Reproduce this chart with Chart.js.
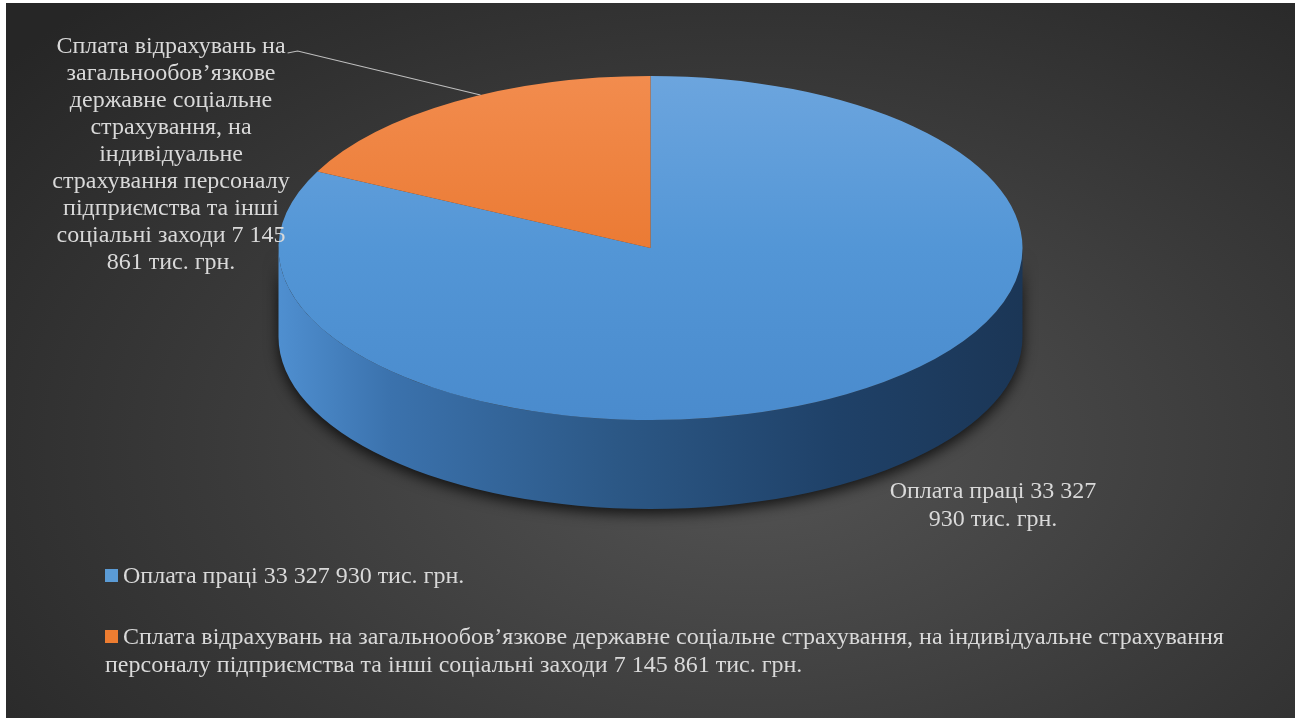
<!DOCTYPE html>
<html>
<head>
<meta charset="utf-8">
<script src="https://cdn.jsdelivr.net/npm/chart.js@4"></script>
<style>
  html, body { margin: 0; padding: 0; background: #fff; }
  #wrap {
    position: absolute; left: 6px; top: 3px; width: 1289px; height: 715px; overflow: hidden;
    background: radial-gradient(ellipse 75% 85% at 58% 62%, #545454 0%, #3a3a3a 55%, #262626 100%);
  }
  #pie { position: absolute; left: 0; top: 0; }
  #legend {
    position: absolute; left: 99px; top: 558px; width: 1150px;
    font-family: "Liberation Serif", "Times New Roman", serif; font-size: 24px;
    line-height: 28px; color: #d9d9d9;
  }
  #legend .item { margin-bottom: 33px; }
  #legend .box { display: inline-block; width: 13px; height: 13px; margin-right: 5px; vertical-align: 1px; }
</style>
</head>
<body>
<div id="wrap">
  <canvas id="pie" width="1289" height="715"></canvas>
  <div id="legend"></div>
</div>
<script>
var categorias = ['Оплата праці 33 327 930 тис. грн.',
  'Сплата відрахувань на загальнообов’язкове державне соціальне страхування, на індивідуальне страхування персоналу підприємства та інші соціальні заходи 7 145 861 тис. грн.'];
var valores = [33327930, 7145861];
var colores = ['#5b9bd5', '#ed7d31'];
// подписи секторов, разбитые по строкам
var etiquetas = [
  ['Оплата праці 33 327', '930 тис. грн.'],
  ['Сплата відрахувань на', 'загальнообов’язкове', 'державне соціальне', 'страхування, на',
   'індивідуальне', 'страхування персоналу', 'підприємства та інші', 'соціальні заходи 7 145', '861 тис. грн.']
];

var RADIO = 372;          // horizontal radius of the pie
var ESCALA = 172 / 372;   // vertical squash of the top face
var PROF = 89;            // depth of the side wall
var FUENTE = '24px "Liberation Serif", "Times New Roman", serif';
var TEXTO = '#d9d9d9';

function gradTop(c)
{
    var area = c.chart.chartArea;
    if (!area) return colores[c.dataIndex];
    var cy = (area.top + area.bottom) / 2;
    var g = c.chart.ctx.createLinearGradient(0, cy - RADIO, 0, cy + RADIO);
    if (c.dataIndex === 0) {
        g.addColorStop(0, '#6ca5de');
        g.addColorStop(0.5, '#5396d6');
        g.addColorStop(1, '#4a8bcd');
    } else {
        g.addColorStop(0, '#f28c4e');
        g.addColorStop(1, '#e4691a');
    }
    return g;
}

// side wall + flattening of the pie
var pie3d = {
    id: 'pie3d',
    beforeDatasetsDraw: function(chart) {
        var ctx = chart.ctx;
        var arcs = chart.getDatasetMeta(0).data;
        var cx = arcs[0].x, cy = arcs[0].y;
        var rx = arcs[0].outerRadius, ry = rx * ESCALA;

        ctx.save();
        for (var i = 0; i < arcs.length; i++) {
            var a = arcs[i];
            var s = a.startAngle, e = a.endAngle;
            // only the front half (0..PI) of the wall is visible
            var a0 = Math.max(s, 0), a1 = Math.min(e, Math.PI);
            if (a1 <= a0) continue;
            var g = ctx.createLinearGradient(cx - rx, 0, cx + rx, 0);
            if (i === 0) {
                g.addColorStop(0, '#4f8fd0');
                g.addColorStop(0.15, '#3b72ad');
                g.addColorStop(0.45, '#2c5886');
                g.addColorStop(0.75, '#1f4168');
                g.addColorStop(1, '#1b3656');
            } else {
                g.addColorStop(0, '#c9621f');
                g.addColorStop(1, '#8a3f10');
            }
            ctx.beginPath();
            ctx.ellipse(cx, cy, rx, ry, 0, a0, a1, false);
            ctx.ellipse(cx, cy + PROF, rx, ry, 0, a1, a0, true);
            ctx.closePath();
            ctx.shadowColor = 'rgba(0,0,0,0.75)';
            ctx.shadowBlur = 14;
            ctx.shadowOffsetY = 5;
            ctx.fillStyle = g;
            ctx.fill();
        }
        ctx.restore();

        ctx.save();
        ctx.translate(cx, cy);
        ctx.scale(1, ESCALA);
        ctx.translate(-cx, -cy);
    },
    afterDatasetsDraw: function(chart) {
        var ctx = chart.ctx;
        ctx.restore();

        var arcs = chart.getDatasetMeta(0).data;
        var cx = arcs[0].x, cy = arcs[0].y;
        var rx = arcs[0].outerRadius, ry = rx * ESCALA;

        ctx.save();
        ctx.font = FUENTE;
        ctx.fillStyle = TEXTO;
        ctx.textAlign = 'center';
        ctx.textBaseline = 'middle';

        // подпись "Оплата праці"
        var l0 = etiquetas[0];
        for (var i = 0; i < l0.length; i++) ctx.fillText(l0[i], 987, 489 + i * 28);

        // подпись отчислений + выноска
        var l1 = etiquetas[1];
        for (var j = 0; j < l1.length; j++) ctx.fillText(l1[j], 165, 44 + j * 27);

        var m = (arcs[1].startAngle + arcs[1].endAngle) / 2 + 0.08;
        var px = cx + rx * Math.cos(m), py = cy + ry * Math.sin(m);
        var w = ctx.measureText(l1[0]).width;
        ctx.strokeStyle = '#bfbfbf';
        ctx.lineWidth = 1.2;
        ctx.beginPath();
        ctx.moveTo(165 + w / 2 + 2, 50);
        ctx.lineTo(165 + w / 2 + 12, 48);
        ctx.lineTo(px, py);
        ctx.stroke();
        ctx.restore();
    }
};

var ctx = document.getElementById('pie');
new Chart(ctx, {
    type: 'pie',
    data: {
        labels: categorias,
        datasets: [{
            data: valores,
            backgroundColor: gradTop,
            borderWidth: 0,
            radius: RADIO
        }]
    },
    options: {
        responsive: false,
        animation: false,
        events: [],
        layout: { padding: { top: 0, bottom: 225, left: 0, right: 0 } },
        plugins: {
            legend: { display: false },
            tooltip: { enabled: false }
        }
    },
    plugins: [pie3d]
});

var leg = document.getElementById('legend');
for (var k = 0; k < categorias.length; k++) {
    var d = document.createElement('div');
    d.className = 'item';
    d.innerHTML = '<span class="box" style="background:' + colores[k] + '"></span>' + categorias[k];
    leg.appendChild(d);
}
</script>
</body>
</html>
